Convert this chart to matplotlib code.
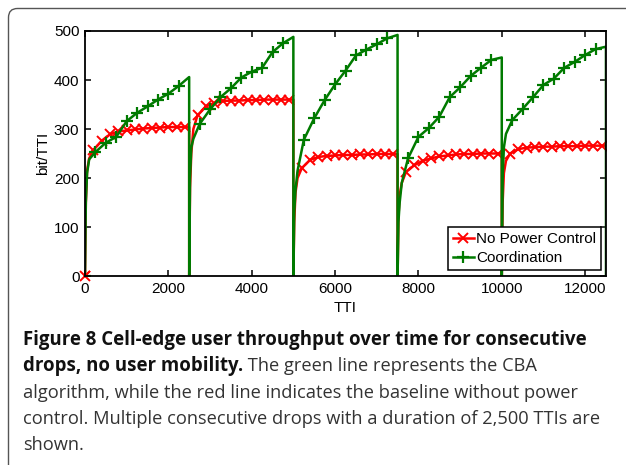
import numpy as np
import matplotlib
matplotlib.use('Agg')
import matplotlib.pyplot as plt
from matplotlib.patches import FancyBboxPatch
from matplotlib.transforms import IdentityTransform

# drop length in TTIs, five consecutive drops
DROP_LEN = 2500
N_DROPS = 5

# offsets inside a drop (TTI) and throughput values (bit/TTI)
red_offsets = [0, 20, 50, 100, 200, 400, 600, 800, 1000, 1200, 1400, 1600, 1800, 2000, 2200, 2400, 2499]
red_drop1 = [0, 150, 215, 240, 257, 276, 289, 295, 297, 299, 301, 302, 303, 304, 304, 304, 304]
red_drop2 = [0, 180, 250, 300, 328, 346, 353, 357, 358, 358, 359, 359, 360, 360, 360, 360, 360]
red_drop3 = [0, 110, 170, 200, 220, 237, 243, 245, 246, 247, 247, 248, 248, 249, 249, 249, 249]
red_drop4 = [0, 120, 165, 190, 212, 226, 235, 240, 244, 246, 248, 249, 249, 250, 250, 250, 250]
red_drop5 = [0, 150, 210, 235, 250, 259, 262, 263, 264, 264, 265, 265, 265, 266, 266, 266, 266]

green_offsets = [0, 20, 50, 100, 250, 500, 750, 1000, 1250, 1500, 1750, 2000, 2250, 2499]
green_drop1 = [0, 150, 210, 238, 253, 272, 284, 316, 333, 346, 360, 372, 388, 406]
green_drop2 = [0, 200, 262, 280, 310, 340, 365, 383, 405, 417, 425, 457, 475, 488]
green_drop3 = [0, 130, 175, 215, 278, 322, 359, 391, 419, 450, 462, 473, 485, 492]
green_drop4 = [0, 110, 150, 190, 240, 284, 302, 325, 365, 385, 408, 425, 441, 446]
green_drop5 = [0, 200, 262, 290, 318, 341, 365, 390, 403, 425, 437, 451, 463, 468]

x_ticks = [0, 2000, 4000, 6000, 8000, 10000, 12000]
y_ticks = [0, 100, 200, 300, 400, 500]

caption_lines = [
    "Figure 8 Cell-edge user throughput over time for consecutive",
    "drops, no user mobility.",
    "algorithm, while the red line indicates the baseline without power",
    "control. Multiple consecutive drops with a duration of 2,500 TTIs are",
    "shown.",
]
caption_line2_rest = " The green line represents the CBA"


def build_series(offsets, drops, step):
    t, v, marks = [], [], []
    for d, vals in enumerate(drops):
        for off, val in zip(offsets, vals):
            if (off % step == 0 and off > 0) or (d == 0 and off == 0):
                marks.append(len(t))
            t.append(d * DROP_LEN + off)
            v.append(val)
    return t, v, marks


red_t, red_v, red_marks = build_series(
    red_offsets, [red_drop1, red_drop2, red_drop3, red_drop4, red_drop5], 200)
green_t, green_v, green_marks = build_series(
    green_offsets, [green_drop1, green_drop2, green_drop3, green_drop4, green_drop5], 250)
# last drop ends at the right edge
green_t.append(N_DROPS * DROP_LEN)
green_v.append(0)

W, H = 626, 465
fig = plt.figure(figsize=(W / 100, H / 100), dpi=100)
fig.patch.set_facecolor('white')

# rounded frame around the figure
frame = FancyBboxPatch((8.5, -12), 650, H - 8.5 + 12,
                       boxstyle='round,pad=0,rounding_size=9',
                       transform=IdentityTransform(), facecolor='none',
                       edgecolor='#555555', linewidth=1.0)
fig.patches.append(frame)

ax = fig.add_axes([85 / W, (H - 276) / H, (606 - 85) / W, (276 - 31) / H])

ax.plot(green_t, green_v, color='#007a00', lw=1.8, marker='+', ms=9, mew=1.6,
        markevery=green_marks, label='Coordination', zorder=2)
ax.plot(red_t, red_v, color='#ff0000', lw=1.8, marker='x', ms=6.5, mew=1.4,
        markevery=red_marks, label='No Power Control', zorder=1)
# bring the first red marker to the front, as in the original
ax.plot(red_t[:1], red_v[:1], ls='none', marker='x', color='#ff0000', ms=6.5,
        mew=1.4, zorder=3, clip_on=False)

ax.set_xlim(0, N_DROPS * DROP_LEN)
ax.set_ylim(0, 500)
ax.set_xticks(x_ticks)
ax.set_yticks(y_ticks)
tick_font = 'Liberation Sans'
ax.tick_params(direction='in', top=True, right=True, length=4, width=1.1,
               labelsize=11, pad=4)
for lab in ax.get_xticklabels() + ax.get_yticklabels():
    lab.set_family(tick_font)
for s in ax.spines.values():
    s.set_linewidth(1.3)
    s.set_zorder(4)
ax.set_xlabel('TTI', family=tick_font, fontsize=11, labelpad=4)
ax.set_ylabel('bit/TTI', family=tick_font, fontsize=11, labelpad=3)

handles, labels = ax.get_legend_handles_labels()
leg = ax.legend(handles[::-1][:2], labels[::-1][:2], loc='lower right',
                bbox_to_anchor=(0.99, 0.025),
                prop={'family': tick_font, 'size': 11}, fancybox=False,
                edgecolor='black', framealpha=1, handlelength=1.4,
                handletextpad=0.15, borderpad=0.3, labelspacing=0.35,
                borderaxespad=0)
leg.get_frame().set_linewidth(1.1)
leg.set_zorder(5)

# caption below the chart, sized to the width of the original lines
cap_font = 'Open Sans'
left_px = 23
baselines = [345, 371.3, 397.6, 424, 450]
renderer = fig.canvas.get_renderer()


def fit_size(text, weight, target_px):
    probe = fig.text(0, 0, text, family=cap_font, fontsize=12, fontweight=weight)
    w = probe.get_window_extent(renderer).width
    probe.remove()
    return 12 * target_px / w


bold_size = fit_size(caption_lines[0], 'bold', 587 - left_px)
reg_size = fit_size(caption_lines[3], 'normal', 597 - left_px)

for i, line in enumerate(caption_lines):
    weight = 'bold' if i < 2 else 'normal'
    size = bold_size if i < 2 else reg_size
    txt = fig.text(left_px / W, 1 - baselines[i] / H, line, family=cap_font,
                   fontsize=size, fontweight=weight, va='baseline',
                   ha='left', color='#111111' if i < 2 else '#333333')
    if i == 1:
        bb = txt.get_window_extent(renderer)
        fig.text(bb.x1 / W, 1 - baselines[i] / H, caption_line2_rest,
                 family=cap_font, fontsize=reg_size, va='baseline', ha='left',
                 color='#333333')

fig.savefig('out.png', dpi=100)
